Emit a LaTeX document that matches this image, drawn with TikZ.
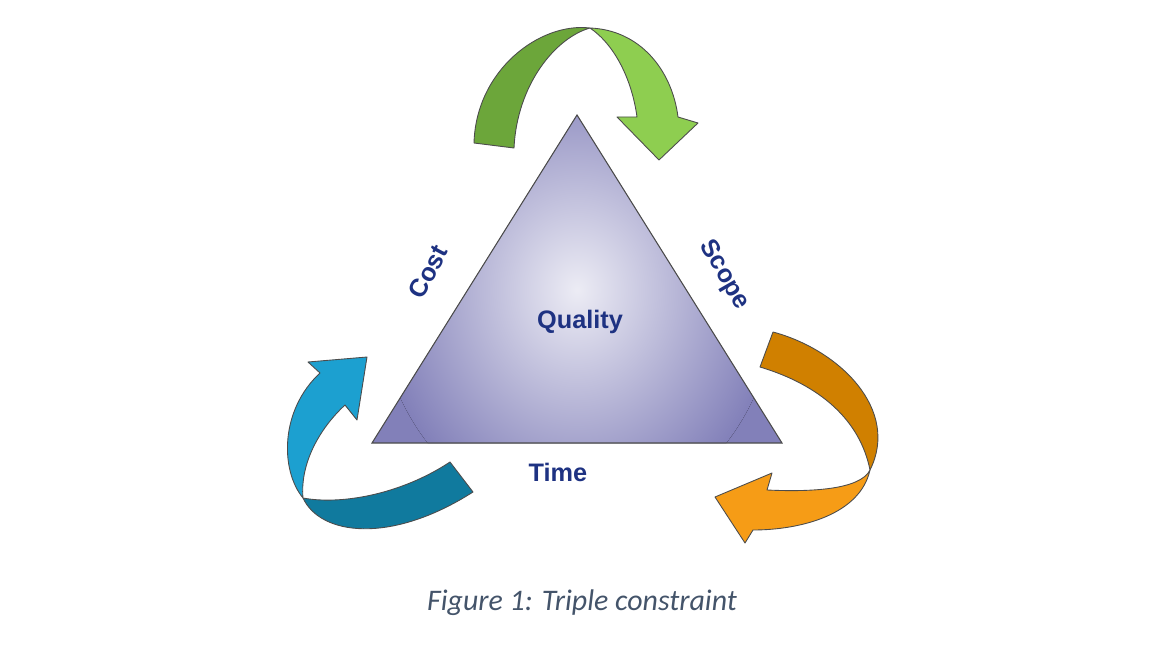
\documentclass[tikz,border=0pt]{standalone}
\usepackage{fontspec}
\setmainfont{Liberation Sans}
\newfontfamily\capfont{Carlito}
\usetikzlibrary{shadings}
\definecolor{labelblue}{RGB}{30,50,130}
\definecolor{tricol}{RGB}{130,128,185}
\definecolor{greendark}{RGB}{108,166,58}
\definecolor{greenlight}{RGB}{142,206,80}
\definecolor{bluelight}{RGB}{28,160,208}
\definecolor{bluedark}{RGB}{16,122,158}
\definecolor{orangedark}{RGB}{208,128,0}
\definecolor{orangelight}{RGB}{246,156,22}
\definecolor{capcol}{RGB}{68,84,106}
\tikzset{
  ribbon/.style={draw=black!70, line width=0.5pt, line join=round},
  label/.style={font=\bfseries\Large, text=labelblue}
}
\begin{document}
\begin{tikzpicture}[x=0.02cm, y=-0.02cm]
    \useasboundingbox (0,0) rectangle (1176,662);

    % Triangle
    \coordinate (apex) at (577,115);
    \coordinate (left) at (372,443);
    \coordinate (right) at (782,443);
    \begin{scope}
        \clip (apex) -- (left) -- (right) -- cycle;
        \fill[tricol] (apex) -- (left) -- (right) -- cycle;
        \fill[inner color=tricol!15, outer color=tricol] (577,290) ellipse (200 and 230);
    \end{scope}
    \draw[black!70, line width=0.6pt] (apex) -- (left) -- (right) -- cycle;

    % Green arrow (top)
    \fill[ribbon, fill=greendark] (474,143) .. controls (476,70) and (540,22) .. (590,28)
        .. controls (555,38) and (517,85) .. (514,148) -- cycle;
    \fill[ribbon, fill=greenlight] (590,28) .. controls (640,30) and (672,70) .. (678,117)
        -- (698,123) -- (659,160) -- (617,117) -- (637,117)
        .. controls (632,80) and (615,45) .. (590,28) -- cycle;

    % Blue arrow (left)
    \fill[ribbon, fill=bluelight] (367,357) -- (357,420) -- (345,405)
        .. controls (318,430) and (300,465) .. (303,498)
        .. controls (280,470) and (280,410) .. (320,373) -- (308,362) -- cycle;
    \fill[ribbon, fill=bluedark] (303,498) .. controls (320,535) and (390,545) .. (473,492)
        -- (450,462) .. controls (400,495) and (340,505) .. (303,498) -- cycle;

    % Orange arrow (right)
    \fill[ribbon, fill=orangedark] (773,332) .. controls (840,350) and (900,410) .. (870,470)
        .. controls (860,420) and (820,385) .. (760,367) -- cycle;
    \fill[ribbon, fill=orangelight] (870,470) .. controls (860,515) and (800,530) .. (753,530)
        -- (745,543) -- (715,497) -- (772,473) -- (767,490)
        .. controls (810,492) and (860,490) .. (870,470) -- cycle;

    % Labels
    \node[label, rotate=62] (cost) at (428,272) {Cost};
    \node[label, rotate=-60] (scope) at (724,275) {Scope};
    \node[label] (quality) at (580,322) {Quality};
    \node[label] (time) at (558,472) {Time};

    % Caption
    \node[font=\capfont\itshape\fontsize{17}{20}\selectfont, text=capcol] (caption) at (582,603) {Figure 1: Triple constraint};
\end{tikzpicture}
\end{document}
